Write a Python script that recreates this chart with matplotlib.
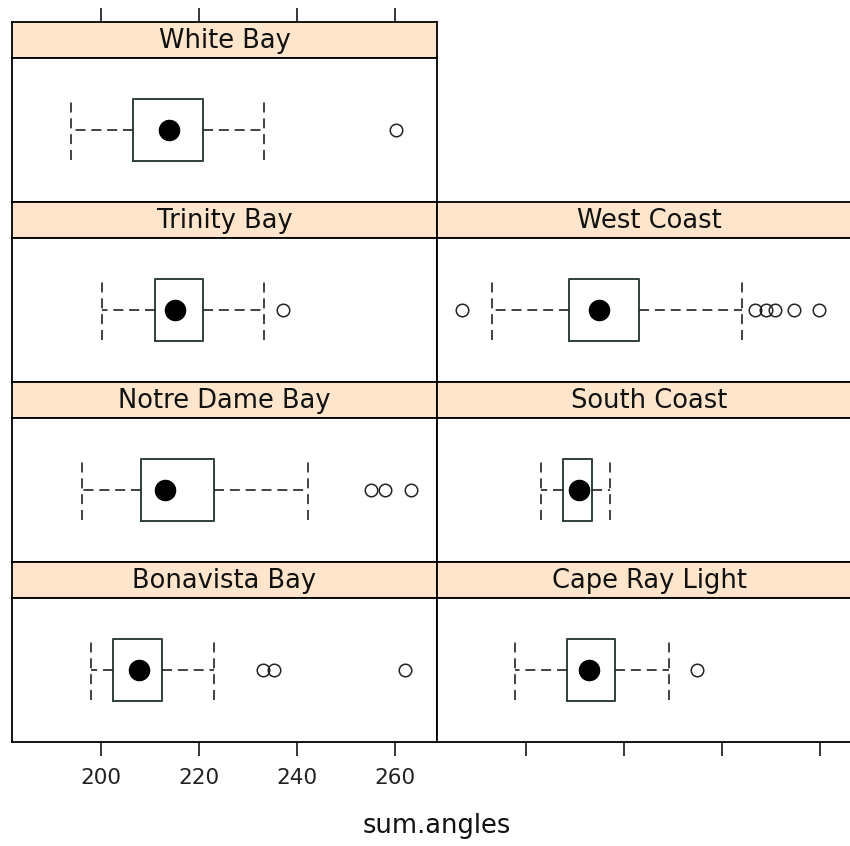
import matplotlib.pyplot as plt

# panel names, laid out like the lattice plot: (column, row from top)
sites = ['White Bay', 'Trinity Bay', 'Notre Dame Bay', 'Bonavista Bay',
         'West Coast', 'South Coast', 'Cape Ray Light']
cols = [0, 0, 0, 0, 1, 1, 1]
rows = [0, 1, 2, 3, 1, 2, 3]

# five-number summaries
whis_lo = [193.9, 200.1, 196.0, 198.0, 193.0, 203.1, 197.8]
q1 = [206.5, 211.0, 208.2, 202.5, 208.7, 207.5, 208.3]
med = [213.9, 215.0, 213.0, 207.8, 214.8, 210.8, 212.8]
q3 = [220.8, 220.8, 223.1, 212.3, 223.0, 213.4, 218.2]
whis_hi = [233.3, 233.3, 242.2, 223.1, 244.1, 217.0, 229.1]
outliers = [[260.1], [237.1], [255.0, 257.9, 263.2], [233.1, 235.2, 262.0],
            [186.8, 246.7, 248.9, 250.8, 254.6, 259.8], [], [234.8]]

xticks = [200, 220, 240, 260]
xlim = (181.8, 268.5)

W, H = 850, 846
fig = plt.figure(figsize=(W / 100, H / 100), dpi=100)

def box(x0, y0, w, h):
    # pixel box (top-left origin) -> figure fraction
    return [x0 / W, 1 - (y0 + h) / H, w / W, h / H]

col_x = [12, 437]
pw = 425
strip_h, panel_h = 36, 144
font = 'DejaVu Sans'
dash = (0, (6, 3.5))

for i, name in enumerate(sites):
    x0 = col_x[cols[i]]
    top = 22 + rows[i] * (strip_h + panel_h)

    st = fig.add_axes(box(x0, top, pw, strip_h))
    st.set_facecolor('#FFE5CC')
    st.set_xlim(xlim)
    st.set_yticks([])
    st.text(0.5, 0.47, name, transform=st.transAxes, ha='center', va='center',
            fontsize=18.5, family=font, color='#111111')
    if rows[i] == 0:
        st.set_xticks(xticks)
        st.tick_params(axis='x', top=True, bottom=False, labeltop=False,
                       labelbottom=False, direction='out', length=10, width=1.1)
    else:
        st.set_xticks([])
    for sp in st.spines.values():
        sp.set_linewidth(1.3)

    ax = fig.add_axes(box(x0, top + strip_h, pw, panel_h))
    stats = [{'whislo': whis_lo[i], 'q1': q1[i], 'med': med[i], 'q3': q3[i],
              'whishi': whis_hi[i], 'fliers': outliers[i]}]
    ax.bxp(stats, positions=[1], widths=0.43, capwidths=0.42,
           orientation='horizontal', showfliers=True,
           boxprops=dict(color='#2F3F3A', linewidth=1.4),
           whiskerprops=dict(color='#222222', linestyle=dash, linewidth=1.2),
           capprops=dict(color='#222222', linestyle=dash, linewidth=1.2),
           medianprops=dict(linestyle='none'),
           flierprops=dict(marker='o', markersize=9, markerfacecolor='none',
                           markeredgecolor='#222222', markeredgewidth=1.1))
    ax.plot([med[i]], [1], 'o', color='black', markersize=14.5)
    ax.set_xlim(xlim)
    ax.set_ylim(0.5, 1.5)
    ax.set_yticks([])
    for sp in ax.spines.values():
        sp.set_linewidth(1.3)
    if rows[i] == 3:
        ax.set_xticks(xticks)
        ax.tick_params(axis='x', direction='out', length=10, width=1.1, pad=9,
                       labelbottom=(cols[i] == 0))
        for lab in ax.get_xticklabels():
            lab.set_fontsize(15.5)
            lab.set_family(font)
            lab.set_color('#222222')
    else:
        ax.set_xticks([])

fig.text(437 / W, 1 - 826 / H, 'sum.angles', ha='center', va='center',
         fontsize=18.5, family=font, color='#111111')

fig.savefig('out.png', dpi=100)
